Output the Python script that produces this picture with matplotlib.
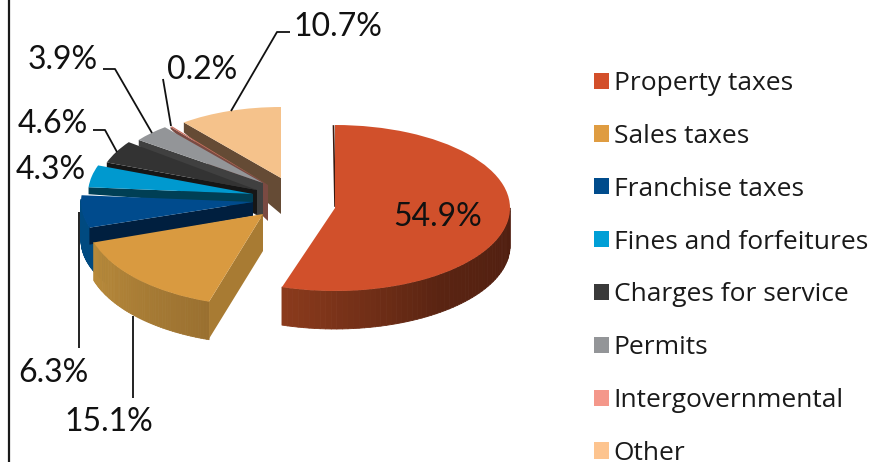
import numpy as np
import matplotlib
matplotlib.use('Agg')
import matplotlib.pyplot as plt
from matplotlib.patches import Patch, Polygon
from matplotlib.collections import PolyCollection
from matplotlib.colors import LinearSegmentedColormap
from matplotlib.transforms import Affine2D

plt.rcParams['font.family'] = ['Lato', 'DejaVu Sans']

# data
categories = ['Property taxes', 'Sales taxes', 'Franchise taxes', 'Fines and forfeitures',
              'Charges for service', 'Permits', 'Intergovernmental', 'Other']
shares = [54.9, 15.1, 6.3, 4.3, 4.6, 3.9, 0.2, 10.7]

# colours
legend_colors = ['#D34F2A', '#DF9C41', '#004C8C', '#009FD6', '#3A3A3A', '#939598', '#F4978A', '#FDC48F']
top_colors = ['#D1502B', '#D99A40', '#004B8D', '#0099CF', '#333333', '#939598', '#C9705F', '#F5C28B']
cut_colors = [None, '#A87B33', '#001F3F', '#003F55', '#161616', '#404040', '#7A4A42', '#654B35']
rim_colors = [['#4F1E10', '#5A2412', '#8A3A1C'], ['#9A7030', '#B88A3A'], ['#004A80', '#004A80'],
              None, None, None, None, None]

# pie shape, pixels: every slice sits somewhere else in the exploded view
centers = [(335, 208), (263, 214), (253, 202), (253, 194), (257, 190), (263, 183), (268, 185), (281, 178)]
radii = [(175, 83), (178, 92), (172, 83), (165, 83), (160, 80), (155, 72), (154, 75), (156, 71)]
rim_range = [(90, None), (None, None), (238, 272), None, None, None, None, None]
rim_depth = 38
cut_depth = [None, (37, 37), (17, 14), (7, 12), (7, 24), (6, 36), (2, 36), (10, 36)]

fig = plt.figure(figsize=(8.87, 4.62), dpi=100)
ax = fig.add_axes([0, 0, 1, 1])

wedges, _ = ax.pie(shares, startangle=90, counterclock=False)
ax.set_aspect('auto')
ax.set_xlim(0, 887)
ax.set_ylim(462, 0)
ax.axis('off')


def rim_point(i, a):
    # a = degrees clockwise from twelve o'clock
    cx, cy = centers[i]
    rx, ry = radii[i]
    return cx + rx * np.sin(np.radians(a)), cy - ry * np.cos(np.radians(a))


for i, w in enumerate(wedges):
    z = (len(wedges) - i) * 10
    cx, cy = centers[i]
    rx, ry = radii[i]
    w.set_transform(Affine2D().scale(rx, -ry).translate(cx, cy) + ax.transData)
    w.set_facecolor(top_colors[i])
    w.set_edgecolor('none')
    w.set_zorder(z + 2)
    start = 90 - w.theta2
    end = 90 - w.theta1

    if rim_range[i] is not None:
        a0 = rim_range[i][0] if rim_range[i][0] is not None else start
        a1 = rim_range[i][1] if rim_range[i][1] is not None else end
        steps = np.linspace(a0, a1, 60)
        strips = []
        for s0, s1 in zip(steps[:-1], steps[1:]):
            x0, y0 = rim_point(i, s0)
            x1, y1 = rim_point(i, s1)
            strips.append([(x0, y0), (x1, y1), (x1, y1 + rim_depth), (x0, y0 + rim_depth)])
        cmap = LinearSegmentedColormap.from_list('rim', rim_colors[i])
        shade = cmap(np.linspace(0, 1, len(strips)))
        ax.add_collection(PolyCollection(strips, facecolors=shade, edgecolors=shade,
                                         linewidths=0.6, zorder=z))

    if cut_depth[i] is not None:
        x, y = rim_point(i, start)
        outer, inner = cut_depth[i]
        ax.add_patch(Polygon([(cx, cy), (x, y), (x, y + outer), (cx, cy + inner)],
                             facecolor=cut_colors[i], edgecolor='none', zorder=z + 1))

# dark inner edge of the big slice
ax.plot([333.5, 335], [126, 206], color='#3A1A10', lw=1.2, zorder=79)

# frame line on the left
ax.plot([8.7, 8.7], [0, 462], color='#1A1A1A', lw=1.6, zorder=5)

# leader lines
leaders = [
    [(231, 111), (277, 32), (290, 32)],
    [(171, 126), (163, 79)],
    [(152, 133), (115, 69), (103, 69)],
    [(117, 152), (105, 130), (93, 130)],
    [(79.5, 212), (79.5, 348)],
    [(133, 316), (133, 398)],
]
for pts in leaders:
    xs, ys = zip(*pts)
    ax.plot(xs, ys, color='#111111', lw=1.3, zorder=100, solid_capstyle='butt')

# labels
label_pos = [(438, 217), (109, 422), (53, 373), (51, 170), (53, 124), (63, 60), (202, 70), (338, 27)]
for v, (lx, ly) in zip(shares, label_pos):
    ax.text(lx, ly, f'{v}%', fontsize=23, color='#111111', ha='center', va='center', zorder=110)

# legend
handles = [Patch(facecolor=c, edgecolor='none', label=n) for c, n in zip(legend_colors, categories)]
ax.legend(handles=handles, loc='upper left', bbox_to_anchor=(594 / 887, 1 - 71 / 462), frameon=False,
          prop={'family': 'Open Sans', 'size': 19}, handlelength=0.57, handleheight=0.57, handletextpad=0.18,
          labelspacing=1.055, borderpad=0, borderaxespad=0, labelcolor='#1A1A1A')

fig.savefig('out.png', dpi=100)
